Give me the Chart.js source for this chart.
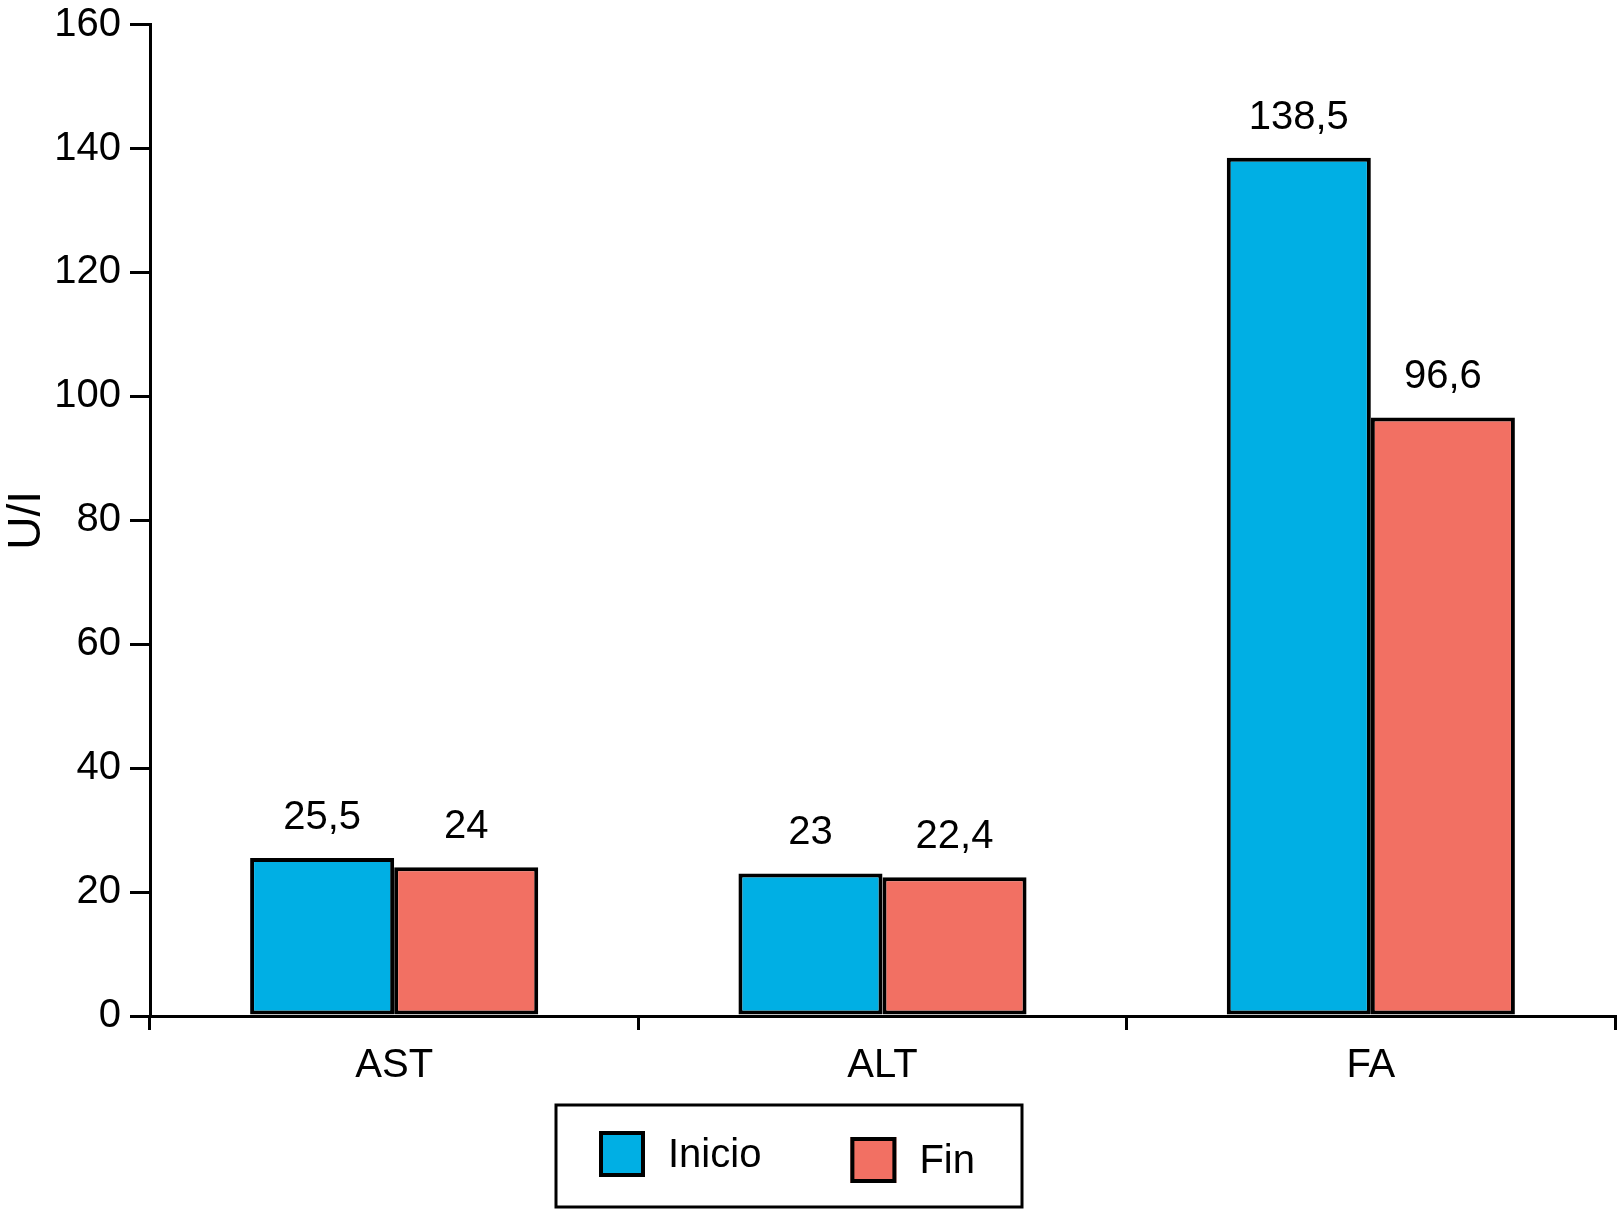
<!DOCTYPE html>
<html>
<head>
<meta charset="utf-8">
<title>U/I</title>
<script src="https://cdn.jsdelivr.net/npm/chart.js@4.4.1/dist/chart.umd.min.js"></script>
<style>
    html, body { margin: 0; padding: 0; background: #fff; }
    #wrap { width: 1618px; height: 1209px; }
</style>
</head>
<body>
<div id="wrap"><canvas id="chart"></canvas></div>
<script>
// Chart data
const categories = ['AST', 'ALT', 'FA'];
const seriesNames = ['Inicio', 'Fin'];
const inicioValues = [25.5, 23, 138.5];
const finValues = [24, 22.4, 96.6];
const yTickValues = [0, 20, 40, 60, 80, 100, 120, 140, 160];

const COLORS = {
    inicio: '#00AFE4',
    fin: '#F27063',
    ink: '#000000'
};
const FONT_FAMILY = "'Liberation Sans', Arial, Helvetica, sans-serif";

// Legend box layout (drawn by hand, the original has a framed legend)
const LEGEND = {
    left: 556, top: 1105, right: 1022, bottom: 1207,
    firstX: 599, centerY: 1154, itemDy: [0, 6],
    box: 46, gap: 23, spacing: 89
};

function formatValue(v) {
    return String(v).replace('.', ',');
}

const valueLabelPlugin = {
    id: 'valueLabels',
    afterDatasetsDraw(chart) {
        const ctx = chart.ctx;
        ctx.save();
        ctx.font = '40px ' + FONT_FAMILY;
        ctx.fillStyle = COLORS.ink;
        ctx.textAlign = 'center';
        ctx.textBaseline = 'alphabetic';
        chart.data.datasets.forEach((ds, i) => {
            chart.getDatasetMeta(i).data.forEach((bar, j) => {
                ctx.fillText(formatValue(ds.data[j]), bar.x, bar.y - 29);
            });
        });
        ctx.restore();
    }
};

const framedLegendPlugin = {
    id: 'framedLegend',
    afterDraw(chart) {
        const ctx = chart.ctx;
        ctx.save();
        ctx.lineWidth = 3;
        ctx.strokeStyle = COLORS.ink;
        ctx.strokeRect(LEGEND.left, LEGEND.top, LEGEND.right - LEGEND.left, LEGEND.bottom - LEGEND.top);

        ctx.font = '40px ' + FONT_FAMILY;
        ctx.textBaseline = 'middle';
        ctx.textAlign = 'left';
        let x = LEGEND.firstX;
        chart.data.datasets.forEach((ds, i) => {
            const cy = LEGEND.centerY + (LEGEND.itemDy[i] || 0);
            const y = cy - LEGEND.box / 2;
            ctx.fillStyle = ds.backgroundColor;
            ctx.fillRect(x, y, LEGEND.box, LEGEND.box);
            ctx.lineWidth = 4;
            ctx.strokeRect(x + 2, y + 2, LEGEND.box - 4, LEGEND.box - 4);
            ctx.fillStyle = COLORS.ink;
            const tx = x + LEGEND.box + LEGEND.gap;
            ctx.fillText(ds.label, tx, cy + 2);
            x = tx + ctx.measureText(ds.label).width + LEGEND.spacing;
        });
        ctx.restore();
    }
};

new Chart(document.getElementById('chart').getContext('2d'), {
    type: 'bar',
    data: {
        labels: categories,
        datasets: [
            {
                label: seriesNames[0],
                data: inicioValues,
                backgroundColor: COLORS.inicio,
                borderColor: COLORS.ink,
                borderWidth: 4,
                borderSkipped: false,
                categoryPercentage: 0.59,
                barPercentage: 1.0
            },
            {
                label: seriesNames[1],
                data: finValues,
                backgroundColor: COLORS.fin,
                borderColor: COLORS.ink,
                borderWidth: 4,
                borderSkipped: false,
                categoryPercentage: 0.59,
                barPercentage: 1.0
            }
        ]
    },
    options: {
        responsive: true,
        maintainAspectRatio: false,
        animation: false,
        layout: {
            padding: { left: 0, right: 3, top: 0, bottom: 113 }
        },
        plugins: {
            legend: { display: false },
            tooltip: { enabled: false }
        },
        scales: {
            x: {
                type: 'category',
                grid: {
                    offset: true,
                    drawOnChartArea: false,
                    drawTicks: true,
                    tickLength: 14,
                    color: COLORS.ink,
                    lineWidth: 3
                },
                border: { display: true, color: COLORS.ink, width: 3 },
                ticks: {
                    color: COLORS.ink,
                    padding: 12,
                    font: { family: FONT_FAMILY, size: 40 }
                },
                afterFit(scale) { scale.height = 80; }
            },
            y: {
                min: 0,
                max: 160,
                afterBuildTicks(scale) {
                    scale.ticks = yTickValues.map(v => ({ value: v }));
                },
                grid: {
                    drawOnChartArea: false,
                    drawTicks: true,
                    tickLength: 20,
                    color: COLORS.ink,
                    lineWidth: 3
                },
                border: { display: true, color: COLORS.ink, width: 3 },
                ticks: {
                    color: COLORS.ink,
                    padding: 9,
                    font: { family: FONT_FAMILY, size: 40, lineHeight: 0.78 }
                },
                title: {
                    display: true,
                    text: 'U/I',
                    color: COLORS.ink,
                    padding: { top: 0, bottom: 0 },
                    font: { family: FONT_FAMILY, size: 46 }
                },
                afterFit(scale) { scale.width = 150; }
            }
        }
    },
    plugins: [valueLabelPlugin, framedLegendPlugin]
});
</script>
</body>
</html>
